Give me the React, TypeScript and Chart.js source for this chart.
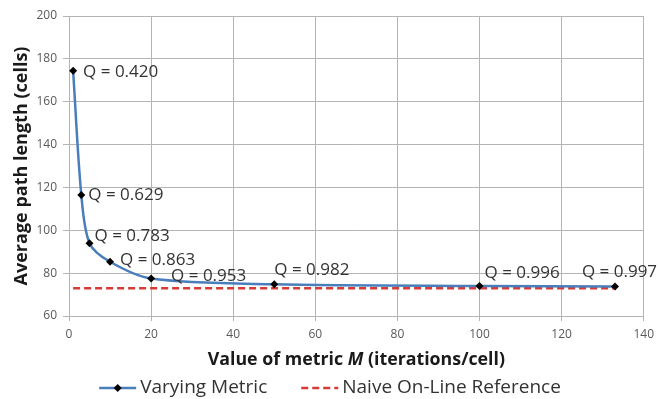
import React, { useEffect, useRef } from 'react';
import { Chart, registerables } from 'chart.js';

Chart.register(...registerables);

// ---- Data ----
const metricM = [1, 3, 5, 10, 20, 50, 100, 133];
const avgPathLength = [174.5, 116.5, 94, 85.3, 77.5, 74.8, 74, 73.8];
const qValues = ['0.420', '0.629', '0.783', '0.863', '0.953', '0.982', '0.996', '0.997'];
const referenceM = [1, 133];
const referenceLength = [73, 73];
const seriesNames = ['Varying Metric', 'Naive On-Line Reference'];
const xTitleParts = ['Value of metric ', 'M', ' (iterations/cell)'];
const yTitle = 'Average path length (cells)';

// ---- Styling / layout (not data) ----
const FONT = "'Open Sans', 'Noto Sans', sans-serif";
const BLUE = '#4a7ebb';
const RED = '#d63b36';
const GRID = '#b4b4b4';
const labelOffsets: [number, number][] = [
  [10, 2], [7, 0], [5, -7], [10, -2], [20, -2], [0, -14], [5, -13], [-33, -14],
];

const qLabelPlugin = {
  id: 'qLabels',
  afterDatasetsDraw(chart: any) {
    const ctx = chart.ctx;
    const meta = chart.getDatasetMeta(0);
    ctx.save();
    ctx.font = `17px ${FONT}`;
    ctx.fillStyle = '#333333';
    ctx.textAlign = 'left';
    ctx.textBaseline = 'middle';
    meta.data.forEach((el: any, i: number) => {
      const [dx, dy] = labelOffsets[i] || [8, 0];
      ctx.fillText(`Q = ${qValues[i]}`, el.x + dx, el.y + dy);
    });
    ctx.restore();
  },
};

const titlesPlugin = {
  id: 'axisTitles',
  afterDraw(chart: any) {
    const ctx = chart.ctx;
    const area = chart.chartArea;
    const fonts = [`bold 17.8px ${FONT}`, `italic bold 17.8px ${FONT}`, `bold 17.8px ${FONT}`];
    ctx.save();
    let total = 0;
    const widths = xTitleParts.map((t, i) => {
      ctx.font = fonts[i];
      const w = ctx.measureText(t).width;
      total += w;
      return w;
    });
    let x = (area.left + area.right) / 2 - total / 2;
    ctx.fillStyle = '#1a1a1a';
    ctx.textBaseline = 'middle';
    ctx.textAlign = 'left';
    xTitleParts.forEach((t, i) => {
      ctx.font = fonts[i];
      ctx.fillText(t, x, 360);
      x += widths[i];
    });
    // y title
    ctx.font = `bold 18px ${FONT}`;
    ctx.translate(22, (area.top + area.bottom) / 2);
    ctx.rotate(-Math.PI / 2);
    ctx.textAlign = 'center';
    ctx.textBaseline = 'middle';
    ctx.fillText(yTitle, 0, 0);
    ctx.restore();
  },
};

const legendPlugin = {
  id: 'customLegend',
  afterDraw(chart: any) {
    const ctx = chart.ctx;
    const y = 388;
    const sample = 37;
    const gapText = 4;
    const gapItem = 34;
    ctx.save();
    ctx.font = `19px ${FONT}`;
    const w0 = ctx.measureText(seriesNames[0]).width;
    const w1 = ctx.measureText(seriesNames[1]).width;
    const total = sample + gapText + w0 + gapItem + sample + gapText + w1;
    let x = chart.width / 2 - total / 2;
    ctx.strokeStyle = BLUE;
    ctx.lineWidth = 2.5;
    ctx.setLineDash([]);
    ctx.beginPath();
    ctx.moveTo(x, y);
    ctx.lineTo(x + sample, y);
    ctx.stroke();
    const cx = x + sample / 2;
    ctx.fillStyle = '#000';
    ctx.beginPath();
    ctx.moveTo(cx, y - 4);
    ctx.lineTo(cx + 4, y);
    ctx.lineTo(cx, y + 4);
    ctx.lineTo(cx - 4, y);
    ctx.closePath();
    ctx.fill();
    x += sample + gapText;
    ctx.fillStyle = '#333333';
    ctx.textBaseline = 'middle';
    ctx.textAlign = 'left';
    ctx.fillText(seriesNames[0], x, y);
    x += w0 + gapItem;
    ctx.strokeStyle = RED;
    ctx.lineWidth = 2.5;
    ctx.setLineDash([7, 4]);
    ctx.beginPath();
    ctx.moveTo(x, y);
    ctx.lineTo(x + sample, y);
    ctx.stroke();
    ctx.setLineDash([]);
    x += sample + gapText;
    ctx.fillText(seriesNames[1], x, y);
    ctx.restore();
  },
};

export default function App() {
  const canvasRef = useRef<HTMLCanvasElement | null>(null);

  useEffect(() => {
    document.body.style.margin = '0';
    const canvas = canvasRef.current;
    if (!canvas) return;
    const chart = new Chart(canvas, {
      type: 'line',
      data: {
        datasets: [
          {
            label: seriesNames[0],
            data: metricM.map((m, i) => ({ x: m, y: avgPathLength[i] })),
            borderColor: BLUE,
            borderWidth: 2.5,
            backgroundColor: '#000',
            pointBackgroundColor: '#000',
            pointBorderColor: '#000',
            pointStyle: 'rectRot',
            pointRadius: 4,
            pointBorderWidth: 0,
            tension: 0.3,
            fill: false,
            order: 0,
          },
          {
            label: seriesNames[1],
            data: referenceM.map((m, i) => ({ x: m, y: referenceLength[i] })),
            borderColor: RED,
            borderWidth: 2.5,
            borderDash: [7, 4],
            pointRadius: 0,
            fill: false,
            order: 1,
          },
        ],
      },
      options: {
        animation: false,
        responsive: false,
        maintainAspectRatio: false,
        layout: { padding: { left: 0, right: 13, top: 16, bottom: 33 } },
        plugins: {
          legend: { display: false },
          tooltip: { enabled: false },
        },
        scales: {
          x: {
            type: 'linear',
            min: 0,
            max: 140,
            ticks: {
              stepSize: 20,
              font: { family: FONT, size: 12 },
              color: '#595959',
              padding: 6,
              maxRotation: 0,
            },
            grid: { color: GRID, lineWidth: 1, tickLength: 5 },
            border: { color: GRID, width: 1 },
            afterFit(scale: any) {
              scale.height = 50;
            },
          },
          y: {
            type: 'linear',
            min: 60,
            max: 200,
            ticks: {
              stepSize: 20,
              font: { family: FONT, size: 12 },
              color: '#595959',
              padding: 6,
            },
            grid: { color: GRID, lineWidth: 1, tickLength: 6 },
            border: { color: GRID, width: 1 },
            afterFit(scale: any) {
              scale.width = 69;
            },
          },
        },
      },
      plugins: [qLabelPlugin, titlesPlugin, legendPlugin],
    } as any);
    return () => chart.destroy();
  }, []);

  return (
    <div style={{ width: 660, height: 399 }}>
      <canvas ref={canvasRef} width={660} height={399} style={{ display: 'block' }} />
    </div>
  );
}
